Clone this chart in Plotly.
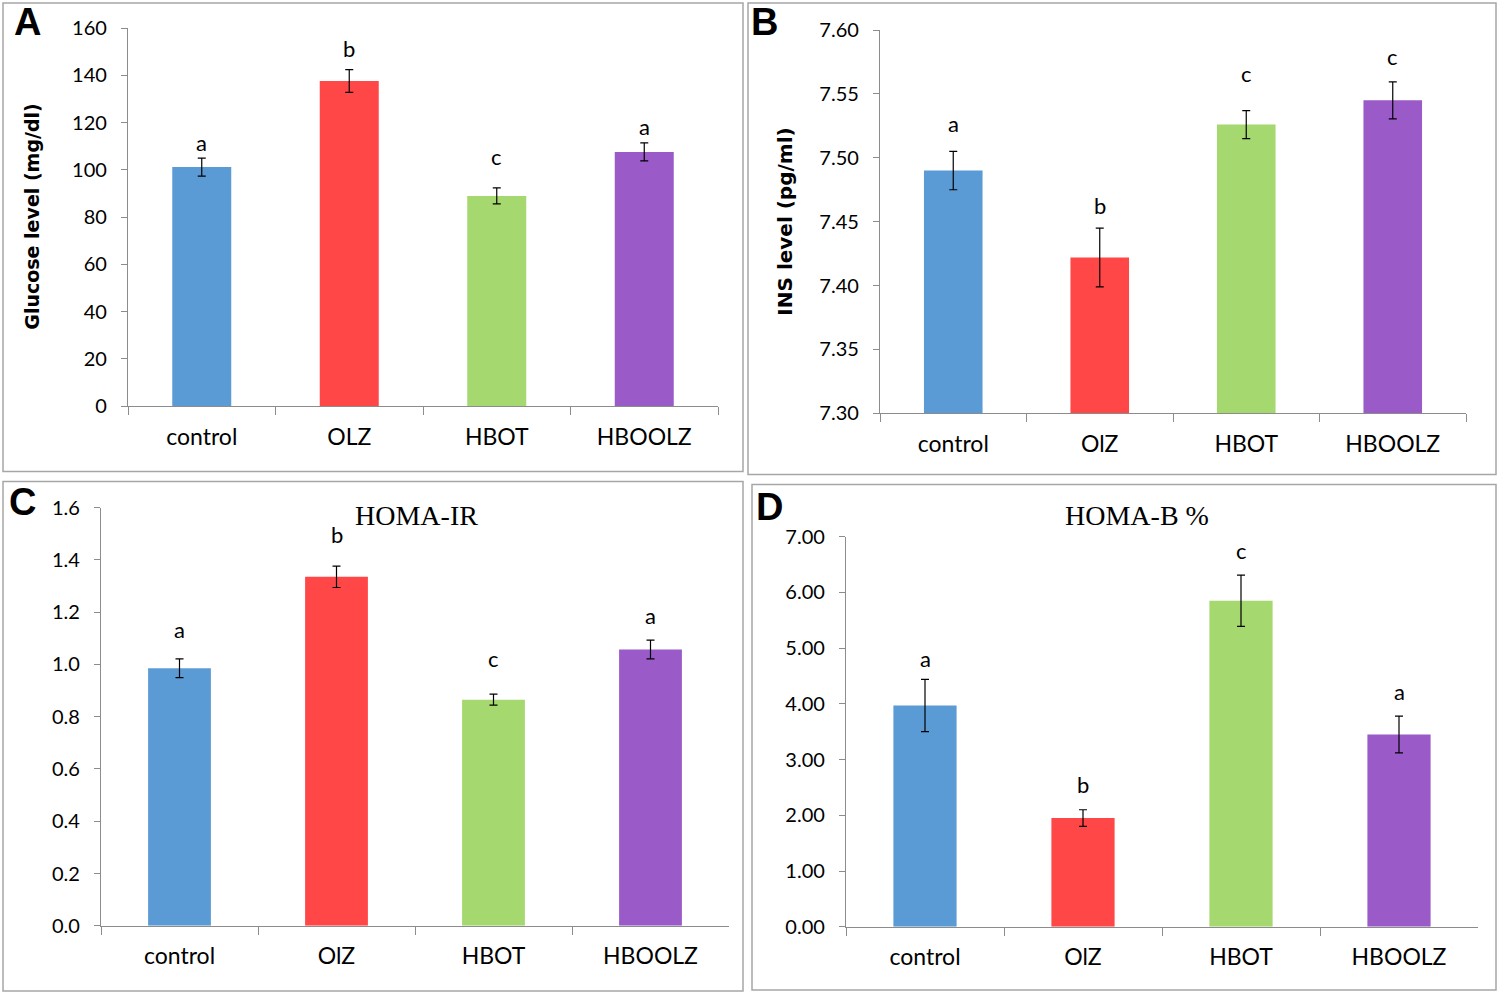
import plotly.graph_objects as go

W, H = 1499, 995
# the photo squeezes the page a little vertically and drops it ~13 px,
# so the figure is drawn taller and pulled up to land on the same spots
PAGE_H = 1022
SHIFT = 13

# data
colors = ["#5B9BD5", "#FF4747", "#A5D86E", "#9A5BC9"]

cats_a = ["control", "OLZ", "HBOT", "HBOOLZ"]
glucose = [101.2, 137.6, 89.0, 107.6]
glucose_err = [3.8, 4.8, 3.4, 3.8]
glucose_letters = ["a", "b", "c", "a"]
glucose_letter_y = [111.5, 151.5, 105.5, 118.5]

cats_b = ["control", "OlZ", "HBOT", "HBOOLZ"]
ins = [7.490, 7.422, 7.526, 7.545]
ins_err = [0.015, 0.023, 0.011, 0.0145]
ins_letters = ["a", "b", "c", "c"]
ins_letter_y = [7.527, 7.463, 7.566, 7.579]

cats_c = ["control", "OlZ", "HBOT", "HBOOLZ"]
homa_ir = [0.985, 1.335, 0.865, 1.057]
homa_ir_err = [0.036, 0.041, 0.021, 0.036]
homa_ir_letters = ["a", "b", "c", "a"]
homa_ir_letter_y = [1.134, 1.497, 1.023, 1.188]

cats_d = ["control", "OlZ", "HBOT", "HBOOLZ"]
homa_b = [3.97, 1.95, 5.85, 3.45]
homa_b_err = [0.47, 0.15, 0.46, 0.33]
homa_b_letters = ["a", "b", "c", "a"]
homa_b_letter_y = [4.82, 2.56, 6.75, 4.22]


def px_x(v):
    return v / W


def px_y(v):
    return 1 - v / H


# panel plot areas in pixels: (left, right, top, bottom)
panels = [
    dict(name="A", cats=cats_a, vals=glucose, err=glucose_err, letters=glucose_letters,
         ly=glucose_letter_y, box=(128, 718, 28, 405), rng=[0, 160], dtick=20, fmt="d"),
    dict(name="B", cats=cats_b, vals=ins, err=ins_err, letters=ins_letters,
         ly=ins_letter_y, box=(880, 1466, 30, 412), rng=[7.30, 7.60], dtick=0.05, fmt=".2f"),
    dict(name="C", cats=cats_c, vals=homa_ir, err=homa_ir_err, letters=homa_ir_letters,
         ly=homa_ir_letter_y, box=(101, 729, 506, 923), rng=[0, 1.6], dtick=0.2, fmt=".1f"),
    dict(name="D", cats=cats_d, vals=homa_b, err=homa_b_err, letters=homa_b_letters,
         ly=homa_b_letter_y, box=(846, 1478, 535, 924), rng=[0, 7], dtick=1, fmt=".2f"),
]

tick_font = dict(family="Lato, Open Sans, sans-serif", size=20, color="#000000")
axis_grey = "#8C8C8C"

fig = go.Figure()
layout = {}
annotations = []

for i, p in enumerate(panels):
    n = "" if i == 0 else str(i + 1)
    xa, ya = "x" + n, "y" + n
    left, right, top, bottom = p["box"]
    base = p["rng"][0] if p["name"] == "B" else 0
    fig.add_trace(go.Bar(
        x=p["cats"], y=[v - base for v in p["vals"]], base=base,
        marker=dict(color=colors, line=dict(width=0)),
        width=0.4,
        error_y=dict(type="data", array=p["err"], color="#000000", thickness=1.2, width=4),
        xaxis=xa, yaxis=ya, showlegend=False,
    ))
    layout["xaxis" + n] = dict(
        domain=[px_x(left), px_x(right)], anchor=ya, type="category",
        range=[-0.5, 3.5], showline=True, linecolor=axis_grey, linewidth=1.2,
        ticks="outside", tickson="boundaries", ticklen=8, tickcolor=axis_grey,
        tickfont=dict(tick_font, size=23), ticklabelstandoff=10,
        showgrid=False, zeroline=False, fixedrange=True,
    )
    layout["yaxis" + n] = dict(
        domain=[px_y(bottom), px_y(top)], anchor=xa,
        range=p["rng"], dtick=p["dtick"], tick0=p["rng"][0], tickformat=p["fmt"],
        showline=True, linecolor=axis_grey, linewidth=1.2,
        ticks="outside", ticklen=6, tickcolor=axis_grey,
        tickfont=tick_font, ticklabelstandoff=10,
        showgrid=False, zeroline=False, fixedrange=True,
    )
    for c, t, y in zip(p["cats"], p["letters"], p["ly"]):
        annotations.append(dict(
            x=c, y=y, xref=xa, yref=ya, text=t, showarrow=False,
            font=dict(tick_font, size=22), xanchor="center", yanchor="middle",
        ))

# panel letters
for t, x, y in [("A", 27, 22), ("B", 764, 22), ("C", 22, 500), ("D", 769, 505)]:
    annotations.append(dict(
        x=px_x(x), y=px_y(y), xref="paper", yref="paper", text="<b>%s</b>" % t,
        showarrow=False, font=dict(family="Liberation Sans, Arial, sans-serif", size=38, color="#000000"),
        xanchor="center", yanchor="middle",
    ))

# axis titles and panel titles
annotations.append(dict(
    x=px_x(32), y=px_y(216), xref="paper", yref="paper", text="<b>Glucose level (mg/dl)</b>",
    textangle=-90, showarrow=False, xanchor="center", yanchor="middle",
    font=dict(family="DejaVu Sans, Verdana, sans-serif", size=19, color="#000000"),
))
annotations.append(dict(
    x=px_x(785), y=px_y(221), xref="paper", yref="paper", text="<b>INS level (pg/ml)</b>",
    textangle=-90, showarrow=False, xanchor="center", yanchor="middle",
    font=dict(family="DejaVu Sans, Verdana, sans-serif", size=20, color="#000000"),
))
annotations.append(dict(
    x=px_x(416), y=px_y(514), xref="paper", yref="paper", text="HOMA-IR",
    showarrow=False, xanchor="center", yanchor="middle",
    font=dict(family="Liberation Serif, Times New Roman, serif", size=28, color="#000000"),
))
annotations.append(dict(
    x=px_x(1137), y=px_y(514), xref="paper", yref="paper", text="HOMA-B %",
    showarrow=False, xanchor="center", yanchor="middle",
    font=dict(family="Liberation Serif, Times New Roman, serif", size=28, color="#000000"),
))

# panel frames
shapes = []
for x0, y0, x1, y1 in [(3, 3, 743, 470), (748, 3, 1496, 473), (3, 480, 743, 988), (752, 483, 1496, 987)]:
    shapes.append(dict(
        type="rect", xref="paper", yref="paper",
        x0=px_x(x0), x1=px_x(x1), y0=px_y(y1), y1=px_y(y0),
        line=dict(color="#A6A6A6", width=1.5), fillcolor="rgba(0,0,0,0)",
    ))

fig.update_layout(
    width=W, height=PAGE_H, margin=dict(l=0, r=0, t=0, b=0),
    paper_bgcolor="#FFFFFF", plot_bgcolor="#FFFFFF",
    annotations=annotations, shapes=shapes, bargap=0.6,
    **layout,
)

fig.write_html(
    "out.html",
    config={"displayModeBar": False},
    post_script="document.body.style.margin='0';document.body.style.padding='0';"
                "document.body.style.marginTop='-%dpx';"
                "document.body.style.overflow='hidden';" % SHIFT,
)
